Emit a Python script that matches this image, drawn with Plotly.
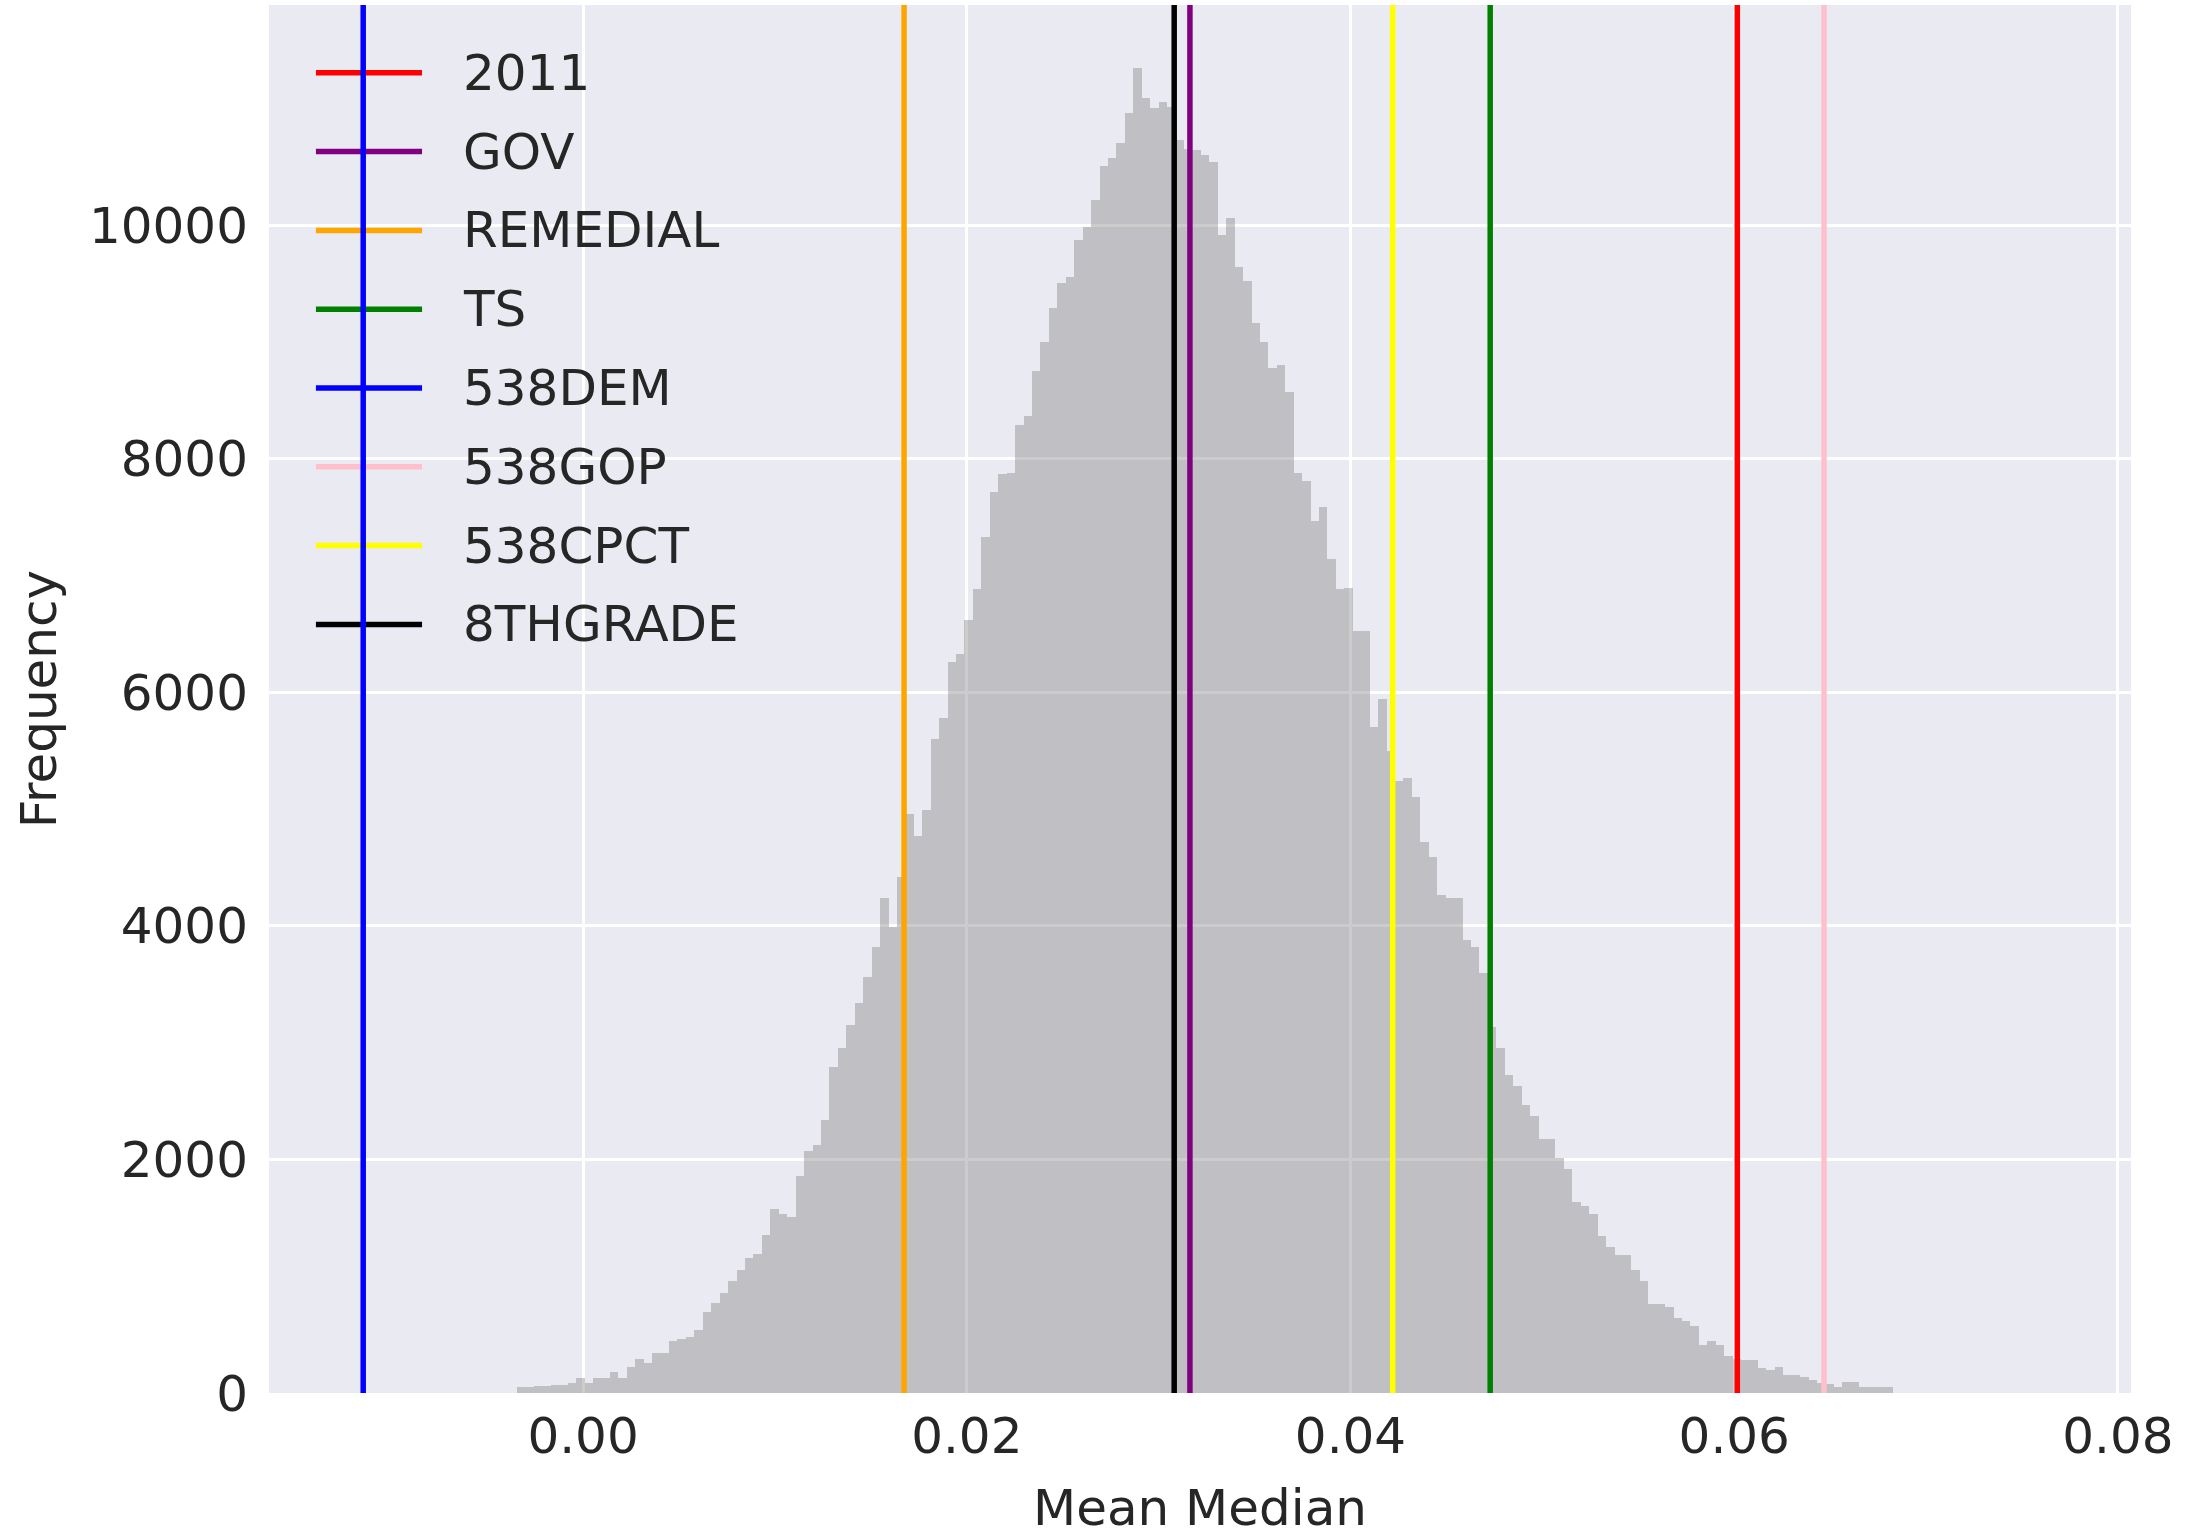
import plotly.graph_objects as go

# ---------------- data ----------------
BIN_START = -0.00344
BIN_WIDTH = 0.00044
counts = [
    50, 50, 60, 60, 65, 70, 89, 126, 89, 126,
    126, 183, 126, 226, 289, 257, 346, 346, 449, 460,
    477, 540, 697, 769, 860, 960, 1055, 1155, 1189, 1355,
    1575, 1535, 1506, 1860, 2070, 2120, 2340, 2790, 2955, 3150,
    3340, 3565, 3822, 4235, 3987, 4420, 4954, 4768, 4991, 5598,
    5779, 6260, 6330, 6620, 6880, 7327, 7711, 7870, 7880, 8290,
    8362, 8748, 9002, 9293, 9506, 9552, 9868, 9986, 10217, 10509,
    10572, 10704, 10963, 11347, 11087, 10999, 11052, 11010, 10726, 10650,
    10640, 10596, 10541, 9916, 10060, 9640, 9523, 9160, 8997, 8778,
    8800, 8570, 7875, 7805, 7466, 7587, 7141, 6887, 6890, 6528,
    6528, 5700, 5940, 5500, 5242, 5262, 5106, 4714, 4586, 4265,
    4237, 4237, 3880, 3818, 3593, 3130, 2953, 2727, 2629, 2465,
    2371, 2178, 2178, 2010, 1920, 1632, 1603, 1530, 1346, 1252,
    1180, 1180, 1049, 955, 763, 763, 735, 640, 620, 574,
    411, 446, 411, 317, 289, 283, 283, 212, 200, 220,
    154, 154, 140, 111, 83, 74, 49, 91, 91, 54,
    54, 54, 54,
]
line_names = ["2011", "GOV", "REMEDIAL", "TS", "538DEM", "538GOP", "538CPCT", "8THGRADE"]
line_values = [0.06016, 0.03163, 0.01673, 0.04728, -0.01146, 0.06468, 0.04220, 0.03081]
line_colors = ["#FF0000", "#800080", "#FFA500", "#008000", "#0000FF", "#FFC0CB", "#FFFF00", "#000000"]
x_ticks = [0.00, 0.02, 0.04, 0.06, 0.08]
y_ticks = [0, 2000, 4000, 6000, 8000, 10000]

# ---------------- figure ----------------
X_RANGE = [-0.01637, 0.08068]
Y_RANGE = [0, 11884]
FONT = "DejaVu Sans"
TXT = "#262626"
FS = 50
LW = 5.5

bin_centers = [BIN_START + (i + 0.5) * BIN_WIDTH for i in range(len(counts))]

fig = go.Figure()
fig.add_trace(go.Bar(
    x=bin_centers, y=counts, width=BIN_WIDTH,
    marker=dict(color="rgba(128,128,128,0.4)", line=dict(width=0)),
    showlegend=False, hoverinfo="skip",
))

for name, val, col in zip(line_names, line_values, line_colors):
    fig.add_trace(go.Scatter(
        x=[val, val], y=Y_RANGE, mode="lines", name=name,
        line=dict(color=col, width=LW), showlegend=False,
    ))

# manual legend (long line samples like matplotlib)
plot_top_px, plot_bot_px = 5, 1393
row0_px, row_step_px = 72.8, 78.8
for i, (name, col) in enumerate(zip(line_names, line_colors)):
    ypx = row0_px + i * row_step_px
    yp = (plot_bot_px - ypx) / (plot_bot_px - plot_top_px)
    fig.add_shape(type="line", xref="paper", yref="paper",
                  x0=0.0252, x1=0.0822, y0=yp, y1=yp,
                  line=dict(color=col, width=LW), layer="between")
    fig.add_annotation(xref="paper", yref="paper", x=0.1030, y=yp,
                       text=name, showarrow=False, xanchor="left", yanchor="middle",
                       font=dict(family=FONT, size=FS, color=TXT))

fig.update_layout(
    width=2195, height=1537,
    margin=dict(l=269, r=64, t=5, b=144, autoexpand=False),
    paper_bgcolor="white", plot_bgcolor="#EAEAF2",
    bargap=0, barmode="overlay",
    font=dict(family=FONT, size=FS, color=TXT),
    showlegend=False,
)
fig.update_xaxes(
    range=X_RANGE, tickvals=x_ticks, ticktext=[f"{v:.2f}" for v in x_ticks],
    showgrid=True, gridcolor="white", gridwidth=3, zeroline=False, showline=False,
    ticks="", ticklabelstandoff=9, automargin=False,
    tickfont=dict(family=FONT, size=FS, color=TXT),
    title=dict(text="Mean Median", font=dict(family=FONT, size=FS, color=TXT), standoff=25),
)
fig.update_yaxes(
    range=Y_RANGE, tickvals=y_ticks, tickformat="d",
    showgrid=True, gridcolor="white", gridwidth=3, zeroline=False, showline=False,
    ticks="", ticklabelstandoff=20, automargin=False,
    tickfont=dict(family=FONT, size=FS, color=TXT),
    title=dict(text="Frequency", font=dict(family=FONT, size=FS, color=TXT), standoff=16),
)

fig.write_html(
    "out.html",
    config={"displayModeBar": False},
    post_script="document.body.style.margin='0';document.body.style.overflow='hidden';",
)
